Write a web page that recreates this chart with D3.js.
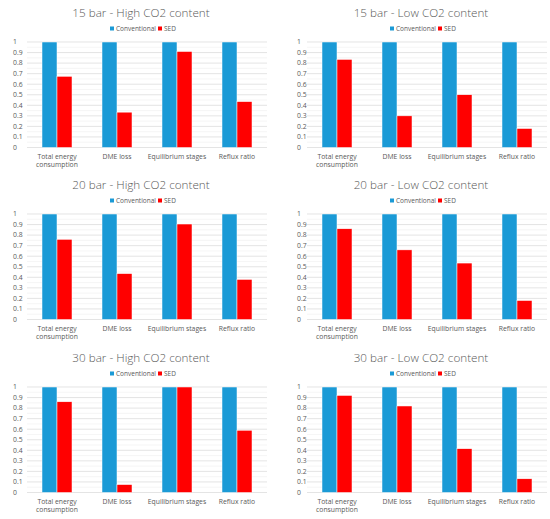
<!DOCTYPE html>
<html>
<head>
<meta charset="utf-8">
<script src="https://cdn.jsdelivr.net/npm/d3@7"></script>
<style>
  body { margin: 0; background: #fff; }
  svg { display: block; font-family: "Open Sans", sans-serif; }
</style>
</head>
<body>
<svg id="chart" width="550" height="519"></svg>
<script>
// chart data
const categories = ['Total energy consumption', 'DME loss', 'Equilibrium stages', 'Reflux ratio'];
const series = ['Conventional', 'SED'];
const titles = [
  '15 bar - High CO2 content', '15 bar - Low CO2 content',
  '20 bar - High CO2 content', '20 bar - Low CO2 content',
  '30 bar - High CO2 content', '30 bar - Low CO2 content'
];
const conventional = [1, 1, 1, 1];
const sed15High = [0.675, 0.335, 0.91, 0.435];
const sed15Low = [0.835, 0.30, 0.50, 0.18];
const sed20High = [0.76, 0.435, 0.905, 0.38];
const sed20Low = [0.86, 0.66, 0.535, 0.18];
const sed30High = [0.86, 0.075, 1.0, 0.59];
const sed30Low = [0.92, 0.82, 0.415, 0.13];
const yTicks = [0, 0.1, 0.2, 0.3, 0.4, 0.5, 0.6, 0.7, 0.8, 0.9, 1];
const yMinor = [0.05, 0.15, 0.25, 0.35, 0.45, 0.55, 0.65, 0.75, 0.85, 0.95];

const sedValues = [sed15High, sed15Low, sed20High, sed20Low, sed30High, sed30Low];
const colors = { 'Conventional': '#1b9ad6', 'SED': '#ff0000' };

const svg = d3.select('#chart');
const colX = [0, 280], rowY = [0, 172, 345];
const textGrey = '#595959';

// one small chart per panel
titles.forEach((title, i) => {
  const ox = colX[i % 2], oy = rowY[Math.floor(i / 2)];
  const g = svg.append('g').attr('transform', `translate(${ox},${oy})`);
  const left = 27, right = left + 240, top = 42, bottom = 147.5;

  const x = d3.scaleBand().domain(categories).range([left, right]).paddingInner(0.5).paddingOuter(0.25);
  const xs = d3.scaleBand().domain(series).range([0, x.bandwidth()]);
  const y = d3.scaleLinear().domain([0, 1]).range([bottom, top]);

  // gridlines
  g.append('g').selectAll('line').data(yMinor).join('line')
    .attr('x1', left).attr('x2', right)
    .attr('y1', d => y(d)).attr('y2', d => y(d))
    .attr('stroke', '#eeeeee').attr('stroke-width', 0.6);
  g.append('g').selectAll('line').data(yTicks).join('line')
    .attr('x1', left).attr('x2', right)
    .attr('y1', d => y(d)).attr('y2', d => y(d))
    .attr('stroke', '#d9d9d9').attr('stroke-width', 0.7);

  // y labels
  g.append('g').selectAll('text').data(yTicks).join('text')
    .attr('x', left - (i % 2 ? 10 : 14)).attr('y', d => y(d)).attr('dy', '0.35em')
    .attr('font-size', 6.8).attr('fill', textGrey)
    .text(d => d);

  // bars
  const rows = categories.map((c, k) => ({ cat: c, values: [conventional[k], sedValues[i][k]] }));
  const grp = g.append('g').selectAll('g').data(rows).join('g')
    .attr('transform', d => `translate(${x(d.cat)},0)`);
  grp.selectAll('rect').data(d => d.values.map((v, s) => ({ s: series[s], v }))).join('rect')
    .attr('x', d => xs(d.s)).attr('width', xs.bandwidth())
    .attr('y', d => y(d.v)).attr('height', d => y(0) - y(d.v))
    .attr('fill', d => colors[d.s])
    .attr('stroke', '#fff').attr('stroke-width', 0.5);

  // category labels, wrapped
  g.append('g').selectAll('text').data(categories).join('text')
    .attr('x', d => x(d) + x.bandwidth() / 2).attr('y', 158.5)
    .attr('text-anchor', 'middle').attr('font-size', 6.8).attr('fill', textGrey)
    .each(function (d) {
      const lines = d === 'Total energy consumption' ? ['Total energy', 'consumption'] : [d];
      d3.select(this).selectAll('tspan').data(lines).join('tspan')
        .attr('x', x(d) + x.bandwidth() / 2).attr('dy', (l, j) => j ? 8.5 : 0).text(l => l);
    });

  // title
  g.append('text').attr('x', 141).attr('y', 17).attr('text-anchor', 'middle')
    .attr('font-size', 11.7).attr('font-weight', 300).attr('fill', textGrey).text(title);

  // legend
  const lg = g.append('g').attr('transform', 'translate(110,29)');
  const legendX = [0, 48];
  series.forEach((s, k) => {
    lg.append('rect').attr('x', legendX[k]).attr('y', -2.5).attr('width', 4).attr('height', 4).attr('fill', colors[s]);
    lg.append('text').attr('x', legendX[k] + 6).attr('y', 0).attr('dy', '0.33em')
      .attr('font-size', 6.5).attr('fill', textGrey).text(s);
  });
});
</script>
</body>
</html>
